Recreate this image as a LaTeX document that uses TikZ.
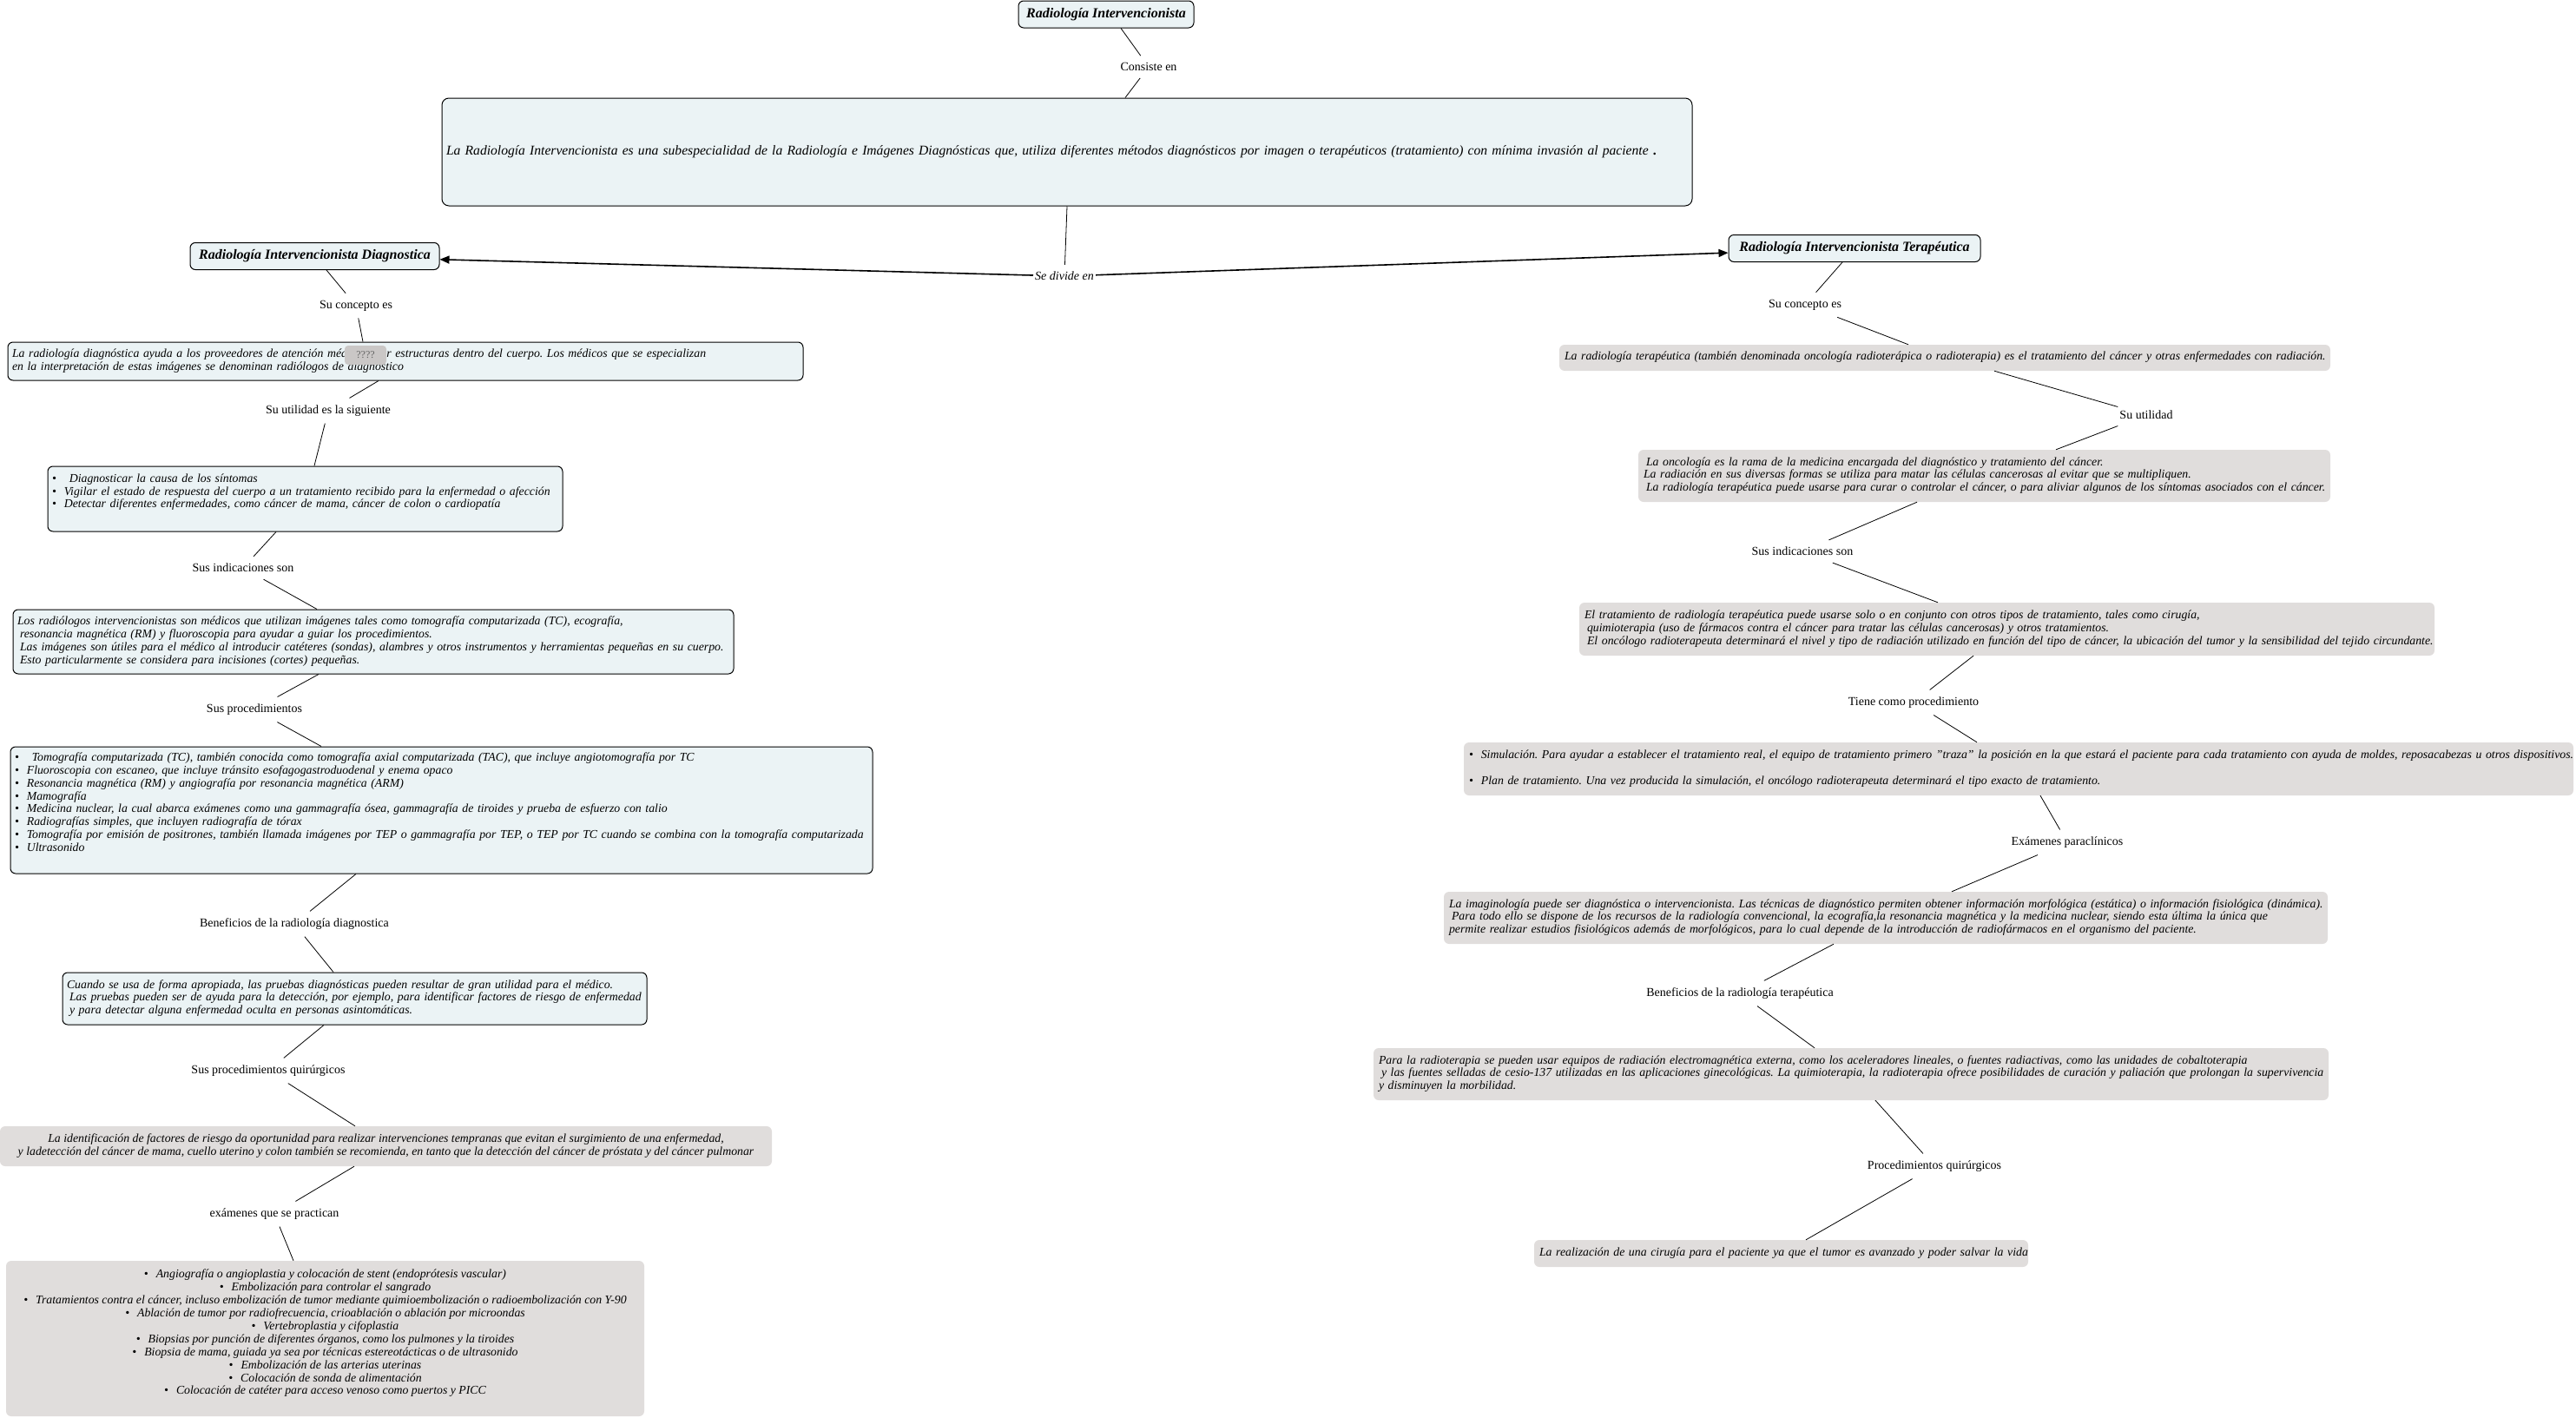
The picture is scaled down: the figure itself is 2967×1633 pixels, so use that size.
\documentclass[tikz,border=0pt]{standalone}
\usepackage{fontspec}
\setmainfont{Liberation Serif}
\usetikzlibrary{arrows.meta}
\definecolor{mapblue}{RGB}{235,243,245}
\definecolor{mapgray}{RGB}{224,221,220}
\newcommand{\rows}[1]{\noindent\begin{tabular}{@{}l@{}}#1\end{tabular}}
\newcommand{\bul}{•\hspace{9pt}}
\frenchspacing

\begin{document}
\begin{tikzpicture}[x=1pt,y=-1pt,
  title/.style={draw,fill=mapblue,rounded corners=6pt,line width=1pt,minimum height=31pt,inner sep=0pt,font=\fontsize{16}{18}\selectfont\bfseries\itshape},
  diagbox/.style={draw,fill=mapblue,rounded corners=6pt,line width=1pt,inner xsep=5pt,inner ysep=0pt,align=left,font=\fontsize{13.8}{14.9}\selectfont\itshape},
  terbox/.style={fill=mapgray,rounded corners=6pt,inner xsep=6pt,inner ysep=0pt,align=left,font=\fontsize{13.8}{14.9}\selectfont\itshape},
  midbox/.style={fill=mapgray,rounded corners=6pt,inner sep=0pt,align=center,font=\fontsize{13.8}{14.9}\selectfont\itshape},
  qbox/.style={fill=mapgray!90!black,rounded corners=4pt,minimum width=48pt,minimum height=22pt,inner sep=0pt,text=black!60,font=\fontsize{12}{13}\selectfont},
  link/.style={inner xsep=2pt,inner ysep=8pt,font=\fontsize{14}{15}\selectfont},
  cline/.style={line width=0.8pt},
  divide/.style={line width=1.6pt,-{Triangle[length=11pt,width=9pt]}}]
\useasboundingbox (0,0) rectangle (2967,1633);

\node[title,minimum width=202pt] (ri) at (1274,16.5) {Radiología Intervencionista};
\node[link] (consiste) at (1323,77) {Consiste en};
\node[draw,fill=mapblue,rounded corners=8pt,line width=1pt,inner xsep=5pt,inner ysep=0pt,align=left,
  text width=1430pt,minimum height=124pt,font=\fontsize{15.6}{18}\selectfont\itshape] (def) at (1229,175)
  {\rows{La Radiología Intervencionista es una subespecialidad de la Radiología e Imágenes Diagnósticas que, utiliza diferentes métodos diagnósticos por imagen o terapéuticos (tratamiento) con mínima invasión al paciente {\upshape\bfseries .}}};
\node[link,font=\fontsize{14}{15}\selectfont\itshape] (divide) at (1226,318) {Se divide en};

% rama diagnostica
\node[title,minimum width=287pt] (diag) at (362.5,295) {Radiología Intervencionista Diagnostica};
\node[link] (dl1) at (410,352) {Su concepto es};
\node[diagbox,text width=906pt,minimum height=44pt] (dconc) at (467,416)
  {\rows{La radiología diagnóstica ayuda a los proveedores de atención médica a ver estructuras dentro del cuerpo. Los médicos que se especializan\\
  en la interpretación de estas imágenes se denominan radiólogos de diagnóstico}};
\node[qbox] (qq) at (421,409) {????};
\node[link] (dl2) at (378,473) {Su utilidad es la siguiente};
\node[diagbox,text width=583pt,minimum height=75pt] (dutil) at (351.5,574.5)
  {\rows{\bul\hspace{6pt}Diagnosticar la causa de los síntomas\\
  \bul Vigilar el estado de respuesta del cuerpo a un tratamiento recibido para la enfermedad o afección\\
  \bul Detectar diferentes enfermedades, como cáncer de mama, cáncer de colon o cardiopatía\\ ~}};
\node[link] (dl3) at (280,654) {Sus indicaciones son};
\node[diagbox,text width=820pt,minimum height=74pt] (dind) at (430,739)
  {\rows{Los radiólogos intervencionistas son médicos que utilizan imágenes tales como tomografía computarizada (TC), ecografía,\\
  \hspace{3pt}resonancia magnética (RM) y fluoroscopia para ayudar a guiar los procedimientos.\\
  \hspace{3pt}Las imágenes son útiles para el médico al introducir catéteres (sondas), alambres y otros instrumentos y herramientas pequeñas en su cuerpo.\\
  \hspace{3pt}Esto particularmente se considera para incisiones (cortes) pequeñas.}};
\node[link] (dl4) at (293,817) {Sus procedimientos};
\node[diagbox,text width=983pt,minimum height=146pt] (dproc) at (508.5,933)
  {\rows{\bul\hspace{6pt}Tomografía computarizada (TC), también conocida como tomografía axial computarizada (TAC), que incluye angiotomografía por TC\\
  \bul Fluoroscopia con escaneo, que incluye tránsito esofagogastroduodenal y enema opaco\\
  \bul Resonancia magnética (RM) y angiografía por resonancia magnética (ARM)\\
  \bul Mamografía\\
  \bul Medicina nuclear, la cual abarca exámenes como una gammagrafía ósea, gammagrafía de tiroides y prueba de esfuerzo con talio\\
  \bul Radiografías simples, que incluyen radiografía de tórax\\
  \bul Tomografía por emisión de positrones, también llamada imágenes por TEP o gammagrafía por TEP, o TEP por TC cuando se combina con la tomografía computarizada\\
  \bul Ultrasonido\\ ~}};
\node[link] (dl5) at (339,1064) {Beneficios de la radiología diagnostica};
\node[diagbox,text width=663pt,minimum height=60pt] (dben) at (408.5,1150)
  {\rows{Cuando se usa de forma apropiada, las pruebas diagnósticas pueden resultar de gran utilidad para el médico.\\
  \hspace{3pt}Las pruebas pueden ser de ayuda para la detección, por ejemplo, para identificar factores de riesgo de enfermedad\\
  \hspace{3pt}y para detectar alguna enfermedad oculta en personas asintomáticas.}};
\node[link] (dl6) at (309,1233) {Sus procedimientos quirúrgicos};
\node[midbox,minimum width=889pt,minimum height=46pt] (dquir) at (444.5,1320)
  {La identificación de factores de riesgo da oportunidad para realizar intervenciones tempranas que evitan el surgimiento de una enfermedad,\\
  y ladetección del cáncer de mama, cuello uterino y colon también se recomienda, en tanto que la detección del cáncer de próstata y del cáncer pulmonar};
\node[link] (dl7) at (316,1398) {exámenes que se practican};
\node[midbox,minimum width=735pt,minimum height=179pt] (dexam) at (374.5,1541.5)
  {\bul Angiografía o angioplastia y colocación de stent (endoprótesis vascular)\\
  \bul Embolización para controlar el sangrado\\
  \bul Tratamientos contra el cáncer, incluso embolización de tumor mediante quimioembolización o radioembolización con Y-90\\
  \bul Ablación de tumor por radiofrecuencia, crioablación o ablación por microondas\\
  \bul Vertebroplastia y cifoplastia\\
  \bul Biopsias por punción de diferentes órganos, como los pulmones y la tiroides\\
  \bul Biopsia de mama, guiada ya sea por técnicas estereotácticas o de ultrasonido\\
  \bul Embolización de las arterias uterinas\\
  \bul Colocación de sonda de alimentación\\
  \bul Colocación de catéter para acceso venoso como puertos y PICC\\ ~};

% rama terapeutica
\node[title,minimum width=290pt] (terap) at (2136,286) {Radiología Intervencionista Terapéutica};
\node[link] (tl1) at (2079,351) {Su concepto es};
\node[terbox,text width=876pt,minimum height=30pt] (tconc) at (2240,412)
  {\rows{La radiología terapéutica (también denominada oncología radioterápica o radioterapia) es el tratamiento del cáncer y otras enfermedades con radiación.}};
\node[link] (tl2) at (2472,478) {Su utilidad};
\node[terbox,text width=785pt,minimum height=60pt] (tutil) at (2285.5,548)
  {\rows{\hspace{3pt}La oncología es la rama de la medicina encargada del diagnóstico y tratamiento del cáncer.\\
  La radiación en sus diversas formas se utiliza para matar las células cancerosas al evitar que se multipliquen.\\
  \hspace{3pt}La radiología terapéutica puede usarse para curar o controlar el cáncer, o para aliviar algunos de los síntomas asociados con el cáncer.}};
\node[link] (tl3) at (2076,635) {Sus indicaciones son};
\node[terbox,text width=973pt,minimum height=61pt] (tind) at (2311.5,724.5)
  {\rows{El tratamiento de radiología terapéutica puede usarse solo o en conjunto con otros tipos de tratamiento, tales como cirugía,\\
  \hspace{3pt}quimioterapia (uso de fármacos contra el cáncer para tratar las células cancerosas) y otros tratamientos.\\
  \hspace{3pt}El oncólogo radioterapeuta determinará el nivel y tipo de radiación utilizado en función del tipo de cáncer, la ubicación del tumor y la sensibilidad del tejido circundante.}};
\node[link] (tl4) at (2204,809) {Tiene como procedimiento};
\node[terbox,text width=1266pt,minimum height=61pt] (tproc) at (2325,885.5)
  {\rows{\bul Simulación. Para ayudar a establecer el tratamiento real, el equipo de tratamiento primero "traza" la posición en la que estará el paciente para cada tratamiento con ayuda de moldes, reposacabezas u otros dispositivos.\\ ~\\
  \bul Plan de tratamiento. Una vez producida la simulación, el oncólogo radioterapeuta determinará el tipo exacto de tratamiento.}};
\node[link] (tl5) at (2381,970) {Exámenes paraclínicos};
\node[terbox,text width=1006pt,minimum height=60pt] (texam) at (2172,1057)
  {\rows{La imaginología puede ser diagnóstica o intervencionista. Las técnicas de diagnóstico permiten obtener información morfológica (estática) o información fisiológica (dinámica).\\
  \hspace{3pt}Para todo ello se dispone de los recursos de la radiología convencional, la ecografía,la resonancia magnética y la medicina nuclear, siendo esta última la única que\\
  permite realizar estudios fisiológicos además de morfológicos, para lo cual depende de la introducción de radiofármacos en el organismo del paciente.}};
\node[link] (tl6) at (2004,1144) {Beneficios de la radiología terapéutica};
\node[terbox,text width=1088pt,minimum height=60pt] (tben) at (2132,1237)
  {\rows{Para la radioterapia se pueden usar equipos de radiación electromagnética externa, como los aceleradores lineales, o fuentes radiactivas, como las unidades de cobaltoterapia\\
  \hspace{3pt}y las fuentes selladas de cesio-137 utilizadas en las aplicaciones ginecológicas. La quimioterapia, la radioterapia ofrece posibilidades de curación y paliación que prolongan la supervivencia\\
  y disminuyen la morbilidad.}};
\node[link] (tl7) at (2228,1343) {Procedimientos quirúrgicos};
\node[terbox,text width=557pt,minimum height=31pt] (tfin) at (2051.5,1443.5)
  {\rows{La realización de una cirugía para el paciente ya que el tumor es avanzado y poder salvar la vida}};

% conectores
\draw[cline] ([xshift=17pt]ri.south) -- (consiste);
\draw[cline] (consiste) -- ([xshift=67pt]def.north);
\draw[cline] (def.south) -- (divide);
\draw[divide] (divide) -- (diag);
\draw[divide] (divide) -- (terap);

\draw[cline] ([xshift=13.5pt]diag.south) -- (dl1);
\draw[cline] (dl1) -- ([xshift=-49pt]dconc.north);
\draw[cline] ([xshift=-31pt]dconc.south) -- (dl2);
\draw[cline] (dl2) -- ([xshift=10.5pt]dutil.north);
\draw[cline] ([xshift=-33.5pt]dutil.south) -- (dl3);
\draw[cline] (dl3) -- ([xshift=-65pt]dind.north);
\draw[cline] ([xshift=-63pt]dind.south) -- (dl4);
\draw[cline] (dl4) -- ([xshift=-138.5pt]dproc.north);
\draw[cline] ([xshift=-98.5pt]dproc.south) -- (dl5);
\draw[cline] (dl5) -- ([xshift=-24.5pt]dben.north);
\draw[cline] ([xshift=-35.5pt]dben.south) -- (dl6);
\draw[cline] (dl6) -- ([xshift=-35.5pt]dquir.north);
\draw[cline] ([xshift=-36.5pt]dquir.south) -- (dl7);
\draw[cline] (dl7) -- ([xshift=-36.5pt]dexam.north);

\draw[cline] ([xshift=-14pt]terap.south) -- (tl1);
\draw[cline] (tl1) -- ([xshift=-42pt]tconc.north);
\draw[cline] ([xshift=57pt]tconc.south) -- (tl2);
\draw[cline] (tl2) -- ([xshift=82.5pt]tutil.north);
\draw[cline] ([xshift=-77.5pt]tutil.south) -- (tl3);
\draw[cline] (tl3) -- ([xshift=-79.5pt]tind.north);
\draw[cline] ([xshift=-38.5pt]tind.south) -- (tl4);
\draw[cline] (tl4) -- ([xshift=-48pt]tproc.north);
\draw[cline] ([xshift=25pt]tproc.south) -- (tl5);
\draw[cline] (tl5) -- ([xshift=76pt]texam.north);
\draw[cline] ([xshift=-60pt]texam.south) -- (tl6);
\draw[cline] (tl6) -- ([xshift=-42pt]tben.north);
\draw[cline] ([xshift=28pt]tben.south) -- (tl7);
\draw[cline] (tl7) -- ([xshift=28.5pt]tfin.north);
\end{tikzpicture}
\end{document}
